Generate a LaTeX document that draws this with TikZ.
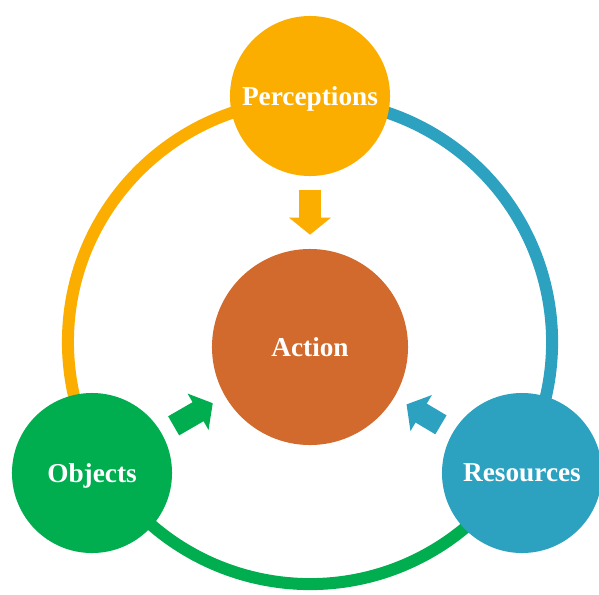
\documentclass[tikz,border=0pt]{standalone}
\usepackage{fontspec}
\setmainfont{Liberation Serif}
\usetikzlibrary{arrows.meta}
\definecolor{percgold}{RGB}{251,174,0}
\definecolor{actorange}{RGB}{209,106,44}
\definecolor{objgreen}{RGB}{0,173,79}
\definecolor{resblue}{RGB}{44,161,192}
\begin{document}
\begin{tikzpicture}[x=0.025cm,y=-0.025cm,
    blob/.style={circle,inner sep=0pt,minimum size=4cm,text=white,text depth=0pt,font=\fontsize{19.4}{22}\selectfont\bfseries},
    push/.style={line width=0.55cm,-{Triangle[width=1.025cm,length=0.425cm]},shorten <=0.35cm,shorten >=0.35cm},
    ring/.style={line width=0.3cm}]
\useasboundingbox (0,0) rectangle (599,594);
%Outer ring in three coloured pieces, drawn first so the circles cover the joins
\coordinate (hub) at (310,342);
\foreach \from/\to/\col in {90/211/percgold,211/329/objgreen,329/450/resblue}
    {
    \draw[ring,\col] (hub) ++(\from:6.05cm) arc[start angle=\from,end angle=\to,radius=6.05cm];
    }
%The four circles
\node[blob,fill=percgold] (perc) at (310,96) {Perceptions};
\node[blob,fill=actorange,minimum size=4.9cm] (act) at (310,347) {Action};
\node[blob,fill=objgreen] (obj) at (92,473) {Objects};
\node[blob,fill=resblue] (res) at (522,473) {Resources};
%Block arrows pointing in at Action
\foreach \src/\col in {perc/percgold,obj/objgreen,res/resblue}
    {
    \draw[push,\col] (\src) -- (act);
    }
\end{tikzpicture}
\end{document}
